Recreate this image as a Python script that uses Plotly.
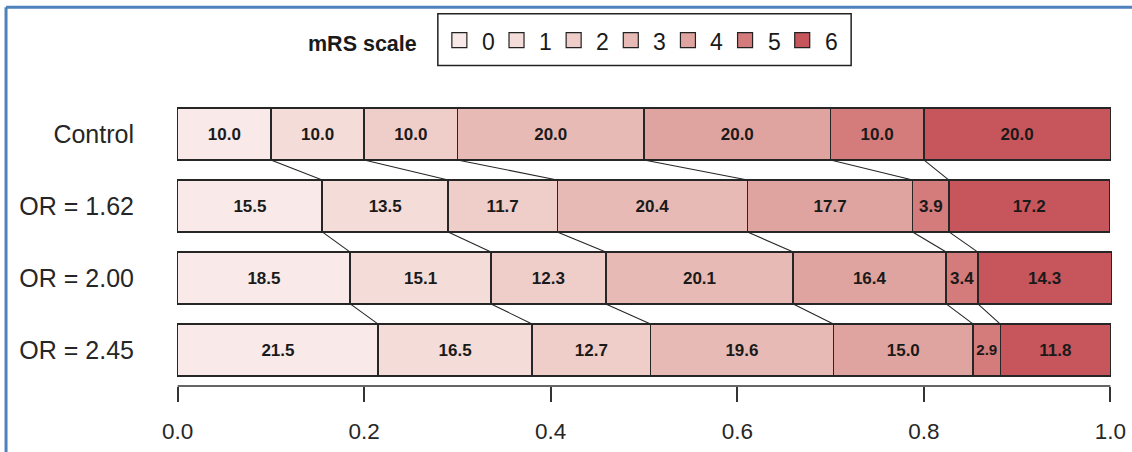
import plotly.graph_objects as go

# ---------------- data ----------------
groups = ["Control", "OR = 1.62", "OR = 2.00", "OR = 2.45"]
mrs_levels = ["0", "1", "2", "3", "4", "5", "6"]
control = [10.0, 10.0, 10.0, 20.0, 20.0, 10.0, 20.0]
or_162 = [15.5, 13.5, 11.7, 20.4, 17.7, 3.9, 17.2]
or_200 = [18.5, 15.1, 12.3, 20.1, 16.4, 3.4, 14.3]
or_245 = [21.5, 16.5, 12.7, 19.6, 15.0, 2.9, 11.8]
x_ticks = [0.0, 0.2, 0.4, 0.6, 0.8, 1.0]
x_tick_labels = ["0.0", "0.2", "0.4", "0.6", "0.8", "1.0"]

# ---------------- style ----------------
colors = ["#f9eae9", "#f4dcd8", "#efcdc9", "#e8bab6", "#dfa4a0", "#d47b7b", "#c6565c"]
edge = "#262626"
FONT = "Liberation Sans, Arial, sans-serif"
W, H = 1132, 452
PX0, PX1 = 178, 1110          # pixel positions of x=0 and x=1
PY_TOP, PY_BOT = 97.5, 386    # plot area top / bottom (pixels)
XPAD = 0.005
BAR_W = 0.72

rows = [control, or_162, or_200, or_245]
ypos = list(range(len(groups)))

scale = (PX1 - PX0)
plot_l = PX0 - XPAD * scale
plot_r = PX1 + XPAD * scale

def px_to_paper_x(px):
    return (px - plot_l) / (plot_r - plot_l)

def px_to_paper_y(py):
    return (PY_BOT - py) / (PY_BOT - PY_TOP)

fig = go.Figure()

# stacked bars, one trace per mRS level
for k, lvl in enumerate(mrs_levels):
    vals = [r[k] / 100.0 for r in rows]
    fig.add_trace(go.Bar(
        y=ypos, x=vals, orientation="h", width=BAR_W,
        name=lvl, showlegend=False,
        marker=dict(color=colors[k], line=dict(color=edge, width=1.5)),
        text=[f"{r[k]:.1f}" for r in rows],
        textposition="inside", insidetextanchor="middle", textangle=0,
        textfont=dict(family=FONT, size=17, color="#1a1a1a", weight="bold"),
        hoverinfo="skip",
    ))

# connecting lines between cumulative boundaries of consecutive rows
cums = []
for r in rows:
    c, s = [], 0.0
    for v in r:
        s += v / 100.0
        c.append(s)
    cums.append(c)
lx, ly = [], []
for i in range(len(rows) - 1):
    for k in range(len(mrs_levels) - 1):
        lx += [cums[i][k], cums[i + 1][k], None]
        ly += [ypos[i] + BAR_W / 2, ypos[i + 1] - BAR_W / 2, None]
fig.add_trace(go.Scatter(x=lx, y=ly, mode="lines", showlegend=False,
                         line=dict(color=edge, width=1.1), hoverinfo="skip"))

shapes = []
annotations = []

# x axis line (only between 0 and 1)
shapes.append(dict(type="line", xref="x", yref="paper", x0=x_ticks[0], x1=x_ticks[-1],
                   y0=0, y1=0, line=dict(color="#333333", width=1.5)))

# blue frame (top + left)
shapes.append(dict(type="line", xref="paper", yref="paper",
                   x0=px_to_paper_x(6.5), x1=px_to_paper_x(W + 5),
                   y0=px_to_paper_y(6.5), y1=px_to_paper_y(6.5),
                   line=dict(color="#4f81bd", width=3)))
shapes.append(dict(type="line", xref="paper", yref="paper",
                   x0=px_to_paper_x(6.5), x1=px_to_paper_x(6.5),
                   y0=px_to_paper_y(6.5), y1=px_to_paper_y(H + 5),
                   line=dict(color="#4f81bd", width=3)))

# manual legend
annotations.append(dict(xref="paper", yref="paper", x=px_to_paper_x(306), y=px_to_paper_y(43),
                        xanchor="left", yanchor="middle", showarrow=False,
                        text="<b>mRS scale</b>",
                        font=dict(family=FONT, size=21.5, color="#1a1a1a")))
shapes.append(dict(type="rect", xref="paper", yref="paper",
                   x0=px_to_paper_x(438), x1=px_to_paper_x(851),
                   y0=px_to_paper_y(13), y1=px_to_paper_y(65),
                   line=dict(color="#222222", width=1.5), fillcolor="white"))
for k, lvl in enumerate(mrs_levels):
    sx = 452 + k * 57.1
    shapes.append(dict(type="rect", xref="paper", yref="paper",
                       x0=px_to_paper_x(sx), x1=px_to_paper_x(sx + 15),
                       y0=px_to_paper_y(32), y1=px_to_paper_y(47),
                       line=dict(color="#222222", width=1.2), fillcolor=colors[k]))
    annotations.append(dict(xref="paper", yref="paper", x=px_to_paper_x(sx + 28), y=px_to_paper_y(41),
                            xanchor="left", yanchor="middle", showarrow=False, text=lvl,
                            font=dict(family=FONT, size=23, color="#1a1a1a")))

fig.update_layout(
    width=W, height=H,
    margin=dict(l=plot_l, r=W - plot_r, t=PY_TOP, b=H - PY_BOT, pad=0, autoexpand=False),
    barmode="stack",
    paper_bgcolor="white", plot_bgcolor="white",
    shapes=shapes, annotations=annotations,
    xaxis=dict(range=[-XPAD, 1 + XPAD], showgrid=False, zeroline=False, showline=False,
               tickmode="array", tickvals=x_ticks, ticktext=x_tick_labels,
               ticks="outside", ticklen=15, tickwidth=1.5, tickcolor="#333333",
               ticklabelstandoff=10,
               tickfont=dict(family=FONT, size=22.5, color="#262626")),
    yaxis=dict(range=[len(groups) - 0.5, -0.5], showgrid=False, zeroline=False, showline=False,
               tickmode="array", tickvals=ypos, ticktext=groups, ticks="",
               ticklabelstandoff=38,
               tickfont=dict(family=FONT, size=25, color="#262626")),
)

fig.write_html("out.html", config={"displayModeBar": False},
               post_script="document.body.style.margin='0';document.body.style.overflow='hidden';")
